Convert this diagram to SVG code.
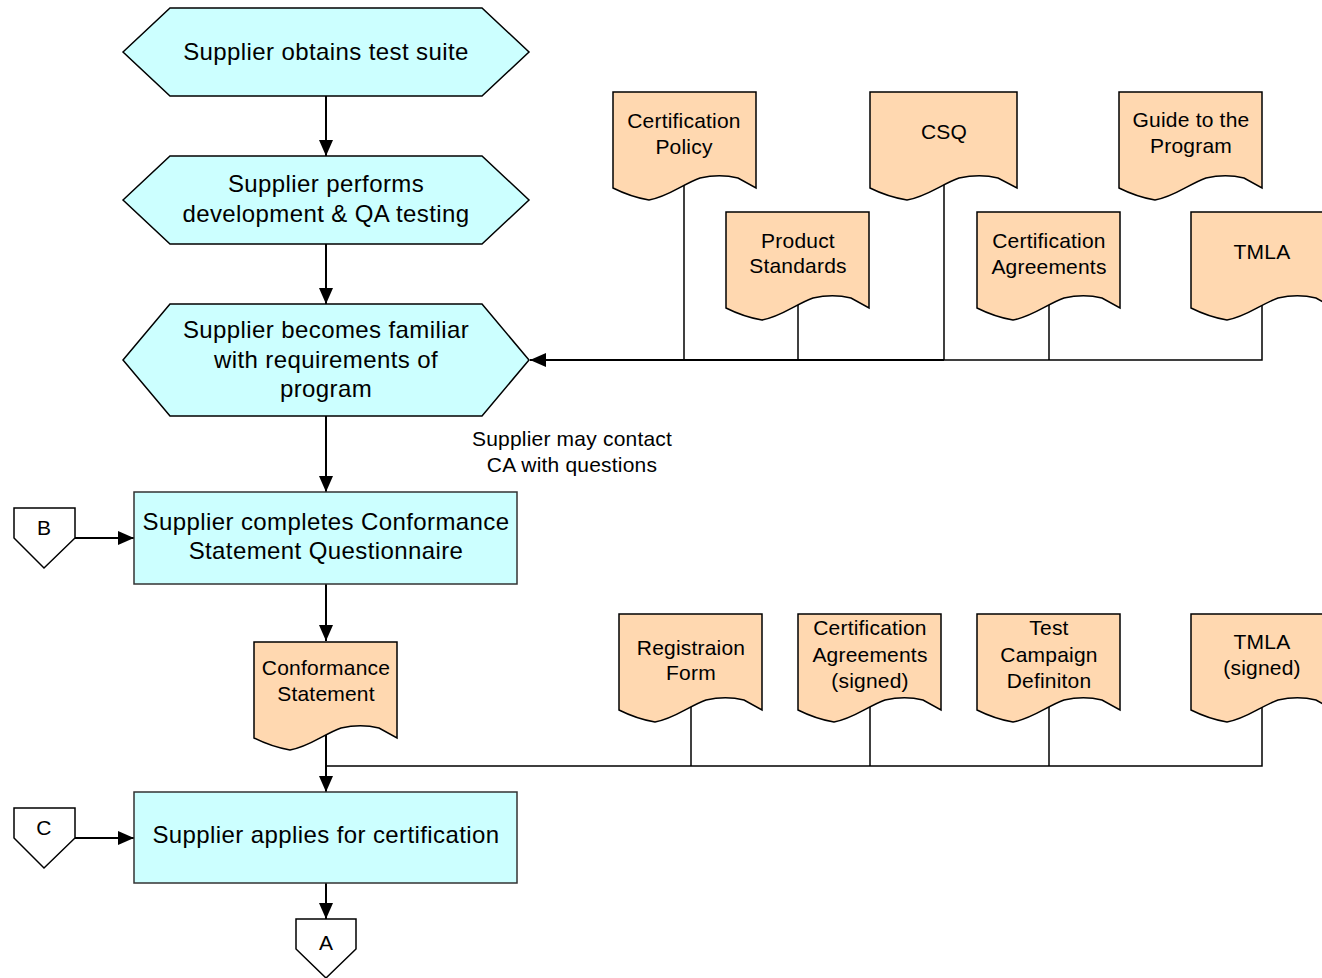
<svg xmlns="http://www.w3.org/2000/svg" xmlns:xlink="http://www.w3.org/1999/xlink" width="1322" height="978" viewBox="0 0 1322 978">
<style>
.hex{fill:#ccffff;stroke:#000;stroke-width:1.5}
.box{fill:#ccffff;stroke:#333;stroke-width:1.5}
.doc{fill:#ffd8b0;stroke:#000;stroke-width:1.5}
.opc{fill:#fff;stroke:#000;stroke-width:1.5}
.t{font-family:"Liberation Sans",Arial,sans-serif;font-size:24px;letter-spacing:0.4px;fill:#000;text-anchor:middle}
.td{font-family:"Liberation Sans",Arial,sans-serif;font-size:21px;letter-spacing:0.2px;fill:#000;text-anchor:middle}
.ln{fill:none;stroke:#000;stroke-width:2}
.lt{fill:none;stroke:#000;stroke-width:1.5}
</style>
<defs>
<marker id="ah" markerUnits="userSpaceOnUse" markerWidth="16" markerHeight="14" viewBox="0 0 16 14" refX="16" refY="7" orient="auto">
<path d="M0,0 L16,7 L0,14 Z" fill="#000"/>
</marker>
<path id="docshape" d="M0,0 H143 V96 L125,86 C113,83 100,83 87,86 C70,92 55,105 36,108 C24,106 12,102 0,96 Z"/>
<path id="docwide" d="M0,0 H147 V96 L128,86 C116,83 103,83 89,86 C72,92 56,105 37,108 C25,106 12,102 0,96 Z"/>
</defs>
<rect width="1322" height="978" fill="#fff"/>
<g id="connectors">
<line class="ln" x1="326" y1="96" x2="326" y2="156" marker-end="url(#ah)"/>
<line class="ln" x1="326" y1="244" x2="326" y2="304" marker-end="url(#ah)"/>
<line class="ln" x1="326" y1="416" x2="326" y2="492" marker-end="url(#ah)"/>
<line class="ln" x1="326" y1="584" x2="326" y2="641" marker-end="url(#ah)"/>
<line class="ln" x1="326" y1="735" x2="326" y2="792" marker-end="url(#ah)"/>
<line class="ln" x1="326" y1="883" x2="326" y2="919" marker-end="url(#ah)"/>
<line class="ln" x1="75" y1="538" x2="134" y2="538" marker-end="url(#ah)"/>
<line class="ln" x1="75" y1="838" x2="134" y2="838" marker-end="url(#ah)"/>
<polyline class="lt" points="684,180 684,360"/>
<polyline class="lt" points="798,300 798,360"/>
<polyline class="lt" points="944,180 944,360"/>
<polyline class="lt" points="1049,300 1049,360"/>
<polyline class="lt" points="1262,300 1262,360 944,360"/>
<line class="ln" x1="944" y1="360" x2="530" y2="360" stroke-width="2.5" marker-end="url(#ah)"/>
<polyline class="lt" points="691,700 691,766"/>
<polyline class="lt" points="870,700 870,766"/>
<polyline class="lt" points="1049,700 1049,766"/>
<polyline class="lt" points="1262,700 1262,766 326,766"/>
</g>
<g id="n-obtain">
<polygon class="hex" points="123,52 170,8 482,8 529,52 482,96 170,96"/>
<text class="t" x="326" y="60">Supplier obtains test suite</text>
</g>
<g id="n-develop">
<polygon class="hex" points="123,200 170,156 482,156 529,200 482,244 170,244"/>
<text class="t" x="326" y="192">Supplier performs</text>
<text class="t" x="326" y="222">development &amp; QA testing</text>
</g>
<g id="n-familiar">
<polygon class="hex" points="123,360 170,304 482,304 529,360 482,416 170,416"/>
<text class="t" x="326" y="338">Supplier becomes familiar</text>
<text class="t" x="326" y="368">with requirements of</text>
<text class="t" x="326" y="397">program</text>
</g>
<g id="n-note">
<text class="td" x="572" y="446">Supplier may contact</text>
<text class="td" x="572" y="472">CA with questions</text>
</g>
<g id="n-csq">
<rect class="box" x="134" y="492" width="383" height="92"/>
<text class="t" x="326" y="530">Supplier completes Conformance</text>
<text class="t" x="326" y="559">Statement Questionnaire</text>
</g>
<g id="n-apply">
<rect class="box" x="134" y="792" width="383" height="91"/>
<text class="t" x="326" y="843">Supplier applies for certification</text>
</g>
<g id="n-B">
<polygon class="opc" points="14,508 75,508 75,538 44,568 14,538"/>
<text class="td" x="44" y="535">B</text>
</g>
<g id="n-C">
<polygon class="opc" points="14,808 75,808 75,838 44,868 14,838"/>
<text class="td" x="44" y="835">C</text>
</g>
<g id="n-A">
<polygon class="opc" points="296,919 356,919 356,949 326,978 296,949"/>
<text class="td" x="326" y="950">A</text>
</g>
<g id="d-policy">
<use xlink:href="#docshape" href="#docshape" class="doc" x="613" y="92"/>
<text class="td" x="684" y="128">Certification</text>
<text class="td" x="684" y="154">Policy</text>
</g>
<g id="d-standards">
<use xlink:href="#docshape" href="#docshape" class="doc" x="726" y="212"/>
<text class="td" x="798" y="248">Product</text>
<text class="td" x="798" y="273">Standards</text>
</g>
<g id="d-csq">
<use xlink:href="#docwide" href="#docwide" class="doc" x="870" y="92"/>
<text class="td" x="944" y="139">CSQ</text>
</g>
<g id="d-agreements">
<use xlink:href="#docshape" href="#docshape" class="doc" x="977" y="212"/>
<text class="td" x="1049" y="248">Certification</text>
<text class="td" x="1049" y="274">Agreements</text>
</g>
<g id="d-guide">
<use xlink:href="#docshape" href="#docshape" class="doc" x="1119" y="92"/>
<text class="td" x="1191" y="127">Guide to the</text>
<text class="td" x="1191" y="153">Program</text>
</g>
<g id="d-tmla">
<use xlink:href="#docshape" href="#docshape" class="doc" x="1191" y="212"/>
<text class="td" x="1262" y="259">TMLA</text>
</g>
<g id="d-conformance">
<use xlink:href="#docshape" href="#docshape" class="doc" x="254" y="642"/>
<text class="td" x="326" y="675">Conformance</text>
<text class="td" x="326" y="701">Statement</text>
</g>
<g id="d-registration">
<use xlink:href="#docshape" href="#docshape" class="doc" x="619" y="614"/>
<text class="td" x="691" y="655">Registraion</text>
<text class="td" x="691" y="680">Form</text>
</g>
<g id="d-agreements-signed">
<use xlink:href="#docshape" href="#docshape" class="doc" x="798" y="614"/>
<text class="td" x="870" y="635">Certification</text>
<text class="td" x="870" y="662">Agreements</text>
<text class="td" x="870" y="688">(signed)</text>
</g>
<g id="d-campaign">
<use xlink:href="#docshape" href="#docshape" class="doc" x="977" y="614"/>
<text class="td" x="1049" y="635">Test</text>
<text class="td" x="1049" y="662">Campaign</text>
<text class="td" x="1049" y="688">Definiton</text>
</g>
<g id="d-tmla-signed">
<use xlink:href="#docshape" href="#docshape" class="doc" x="1191" y="614"/>
<text class="td" x="1262" y="649">TMLA</text>
<text class="td" x="1262" y="675">(signed)</text>
</g>
</svg>
